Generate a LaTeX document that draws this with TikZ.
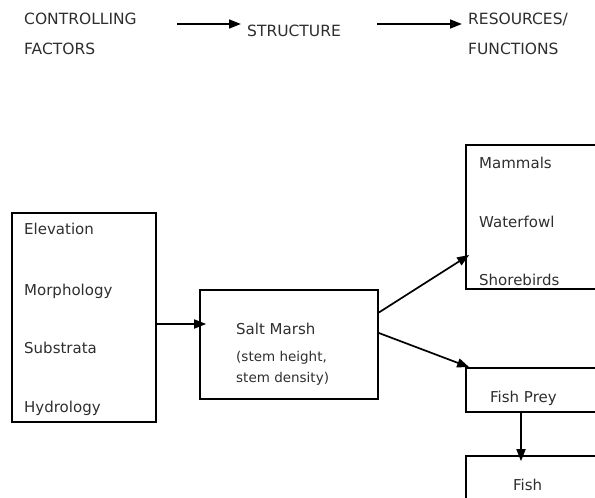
\documentclass[tikz,border=0pt]{standalone}
\usepackage{fontspec}
\setmainfont{DejaVu Sans}
\usetikzlibrary{arrows.meta}
\definecolor{inkgray}{HTML}{2E2E2E}
\tikzset{
  box/.style={draw,line width=1.7pt,rectangle,inner sep=0pt},
  lbl/.style={anchor=base west,inner sep=0pt,text=inkgray,font=\fontsize{15}{18}\selectfont},
  hdr/.style={lbl,font=\fontsize{15.5}{18}\selectfont},
  note/.style={lbl,font=\fontsize{13.5}{16}\selectfont},
  arr/.style={line width=1.7pt,-{Triangle[length=12pt,width=9pt]}}
}
\begin{document}
\begin{tikzpicture}[x=1pt,y=-1pt]
\useasboundingbox (0,0) rectangle (595,498);
\clip (0,0) rectangle (595,498);
% header line
\node[hdr] (ctrl) at (24,24) {CONTROLLING};
\node[hdr] (fact) at (24,54) {FACTORS};
\node[hdr] (struct) at (247,36) {STRUCTURE};
\node[hdr] (res) at (468,24) {RESOURCES/};
\node[hdr] (func) at (468,54) {FUNCTIONS};
\coordinate (h1) at (177,24);
\coordinate (h2) at (241,24);
\coordinate (h3) at (377,24);
\coordinate (h4) at (462,24);
\draw[arr] (h1) -- (h2);
\draw[arr] (h3) -- (h4);
% boxes
\node[box,minimum width=144,minimum height=209] (fac) at (84,317.5) {};
\node[box,minimum width=178,minimum height=109] (marsh) at (289,344.5) {};
\node[box,minimum width=194,minimum height=144] (animals) at (563,217) {};
\node[box,minimum width=194,minimum height=44] (prey) at (563,390) {};
\node[box,minimum width=194,minimum height=84] (fish) at (563,498) {};
% controlling factors
\node[lbl] (elev) at (24,234) {Elevation};
\node[lbl] (morph) at (24,295) {Morphology};
\node[lbl] (subs) at (24,353) {Substrata};
\node[lbl] (hydro) at (24,412) {Hydrology};
% structure
\node[lbl] (salt) at (236,334) {Salt Marsh};
\node[note] (sh) at (236,361) {(stem height,};
\node[note] (sd) at (236,382) {stem density)};
% resources
\node[lbl] (mam) at (479,168) {Mammals};
\node[lbl] (wat) at (479,227) {Waterfowl};
\node[lbl] (shore) at (479,285) {Shorebirds};
\node[lbl] (fp) at (490,402) {Fish Prey};
\node[lbl] (fi) at (513,490) {Fish};
% connectors
\draw[arr,shorten >=-7pt] ([yshift=-6.5pt]fac.east) -- ([yshift=-6.5pt]fac.east -| marsh.west);
\draw[arr] ([yshift=32pt]marsh.east) -- ([xshift=4pt,yshift=-38pt]animals.west);
\draw[arr] ([yshift=11.5pt]marsh.east) -- ([xshift=4pt]prey.north west);
\draw[arr] ([xshift=-42pt]prey.south) -- ([xshift=-42pt,yshift=-6pt]fish.north);
\end{tikzpicture}
\end{document}
